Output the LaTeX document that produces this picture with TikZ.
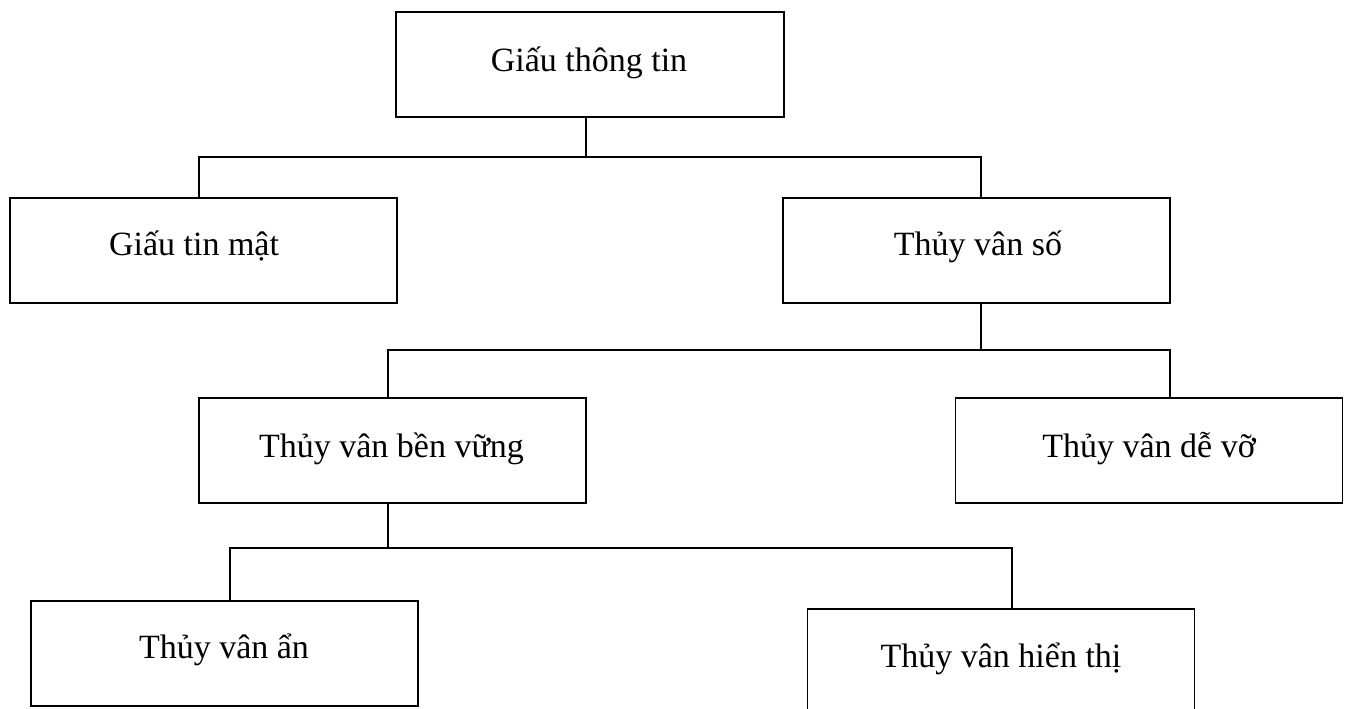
\documentclass[tikz,border=0pt]{standalone}
\usepackage{fontspec}
\setmainfont{Liberation Serif}
\begin{document}
\begin{tikzpicture}[x=0.75pt,y=-0.75pt,
  box/.style={draw=black,line width=1.2pt,inner sep=0pt,outer sep=0pt,minimum width=290.25pt,minimum height=78.75pt},
  lbl/.style={anchor=base,inner sep=0pt,font=\fontsize{25.5}{30}\selectfont},
  conn/.style={draw=black,line width=1.2pt}]
\useasboundingbox (0,0) rectangle (1345,708);
\node[box,minimum width=291pt] (b1) at (590,64.5) {};
\node[box] (b2) at (203.5,250.5) {};
\node[box] (b3) at (976.5,250.5) {};
\node[box] (b4) at (392.5,450.5) {};
\node[box] (b5) at (1149,450.5) {};
\node[box] (b6) at (224.5,653.5) {};
\node[box] (b7) at (1001,661.5) {};
\node[lbl] (t1) at (589,71) {Giấu thông tin};
\node[lbl] (t2) at (194,255) {Giấu tin mật};
\node[lbl] (t3) at (978,255) {Thủy vân số};
\node[lbl] (t4) at (391.5,457) {Thủy vân bền vững};
\node[lbl] (t5) at (1149,457) {Thủy vân dễ vỡ};
\node[lbl] (t6) at (224,658) {Thủy vân ẩn};
\node[lbl] (t7) at (1001,667) {Thủy vân hiển thị};
\coordinate (j1) at (586,157);
\coordinate (h1l) at (199,157);
\coordinate (h1r) at (981,157);
\coordinate (j2) at (981,350);
\coordinate (h2l) at (388,350);
\coordinate (h2r) at (1170,350);
\coordinate (j3) at (388,548);
\coordinate (h3l) at (230,548);
\coordinate (h3r) at (1012,548);
\draw[conn] (j1 |- b1.south) -- (j1);
\draw[conn] (h1l |- b2.north) -- (h1l) -- (h1r) -- (h1r |- b3.north);
\draw[conn] (j2 |- b3.south) -- (j2);
\draw[conn] (h2l |- b4.north) -- (h2l) -- (h2r) -- (h2r |- b5.north);
\draw[conn] (j3 |- b4.south) -- (j3);
\draw[conn] (h3l |- b6.north) -- (h3l) -- (h3r) -- (h3r |- b7.north);
\end{tikzpicture}
\end{document}
